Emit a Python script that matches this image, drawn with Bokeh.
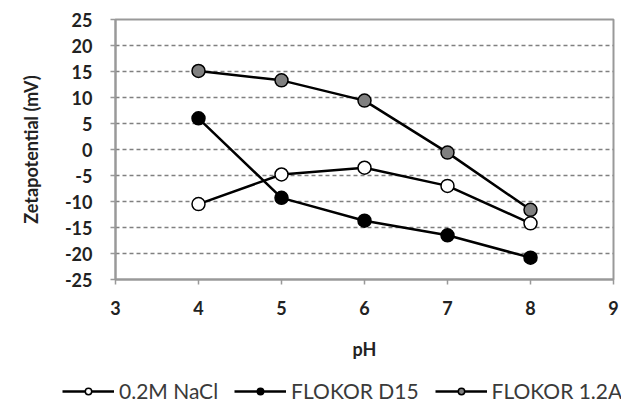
from bokeh.plotting import figure
from bokeh.models import Legend, LegendItem, FixedTicker, Range1d
from bokeh.layouts import column, row
from bokeh.embed import file_html
from bokeh.resources import INLINE

ph = [4, 5, 6, 7, 8]
nacl = [-10.5, -4.8, -3.5, -7.0, -14.2]
d15 = [6.0, -9.3, -13.7, -16.5, -20.8]
a12 = [15.1, 13.3, 9.4, -0.6, -11.6]
series_names = ["0.2M NaCl", "FLOKOR D15", "FLOKOR 1.2A"]
series_fills = ["white", "black", "#808080"]
x_ticks = [3, 4, 5, 6, 7, 8, 9]
y_ticks = list(range(-25, 30, 5))

FONT = "Lato"
W = 621

p = figure(width=W, height=370, output_backend="svg", toolbar_location=None,
           x_range=Range1d(3, 9), y_range=Range1d(-25, 25))
p.min_border_left = 115
p.min_border_right = W - 613
p.min_border_top = 19
p.min_border_bottom = 370 - 279
p.background_fill_color = "white"
p.border_fill_color = "white"
p.outline_line_color = "#999999"
p.outline_line_width = 2

p.xgrid.grid_line_color = None
p.ygrid.grid_line_color = "#808080"
p.ygrid.grid_line_dash = "4 3"
p.ygrid.grid_line_width = 1.5

p.xaxis.ticker = FixedTicker(ticks=x_ticks)
p.yaxis.ticker = FixedTicker(ticks=y_ticks)
p.yaxis.major_label_overrides = {t: str(t) for t in y_ticks}
for ax in (p.xaxis, p.yaxis):
    ax.axis_line_color = "#999999"
    ax.axis_line_width = 2
    ax.major_tick_line_color = "#999999"
    ax.major_tick_line_width = 1.5
    ax.major_tick_in = 0
    ax.major_tick_out = 5
    ax.minor_tick_line_color = None
    ax.major_label_text_font = FONT
    ax.major_label_text_font_style = "bold"
    ax.major_label_text_font_size = "18px"
    ax.major_label_text_color = "#222222"
    ax.axis_label_text_font = FONT
    ax.axis_label_text_font_style = "bold"
    ax.axis_label_text_font_size = "18px"
    ax.axis_label_text_color = "#222222"
p.xaxis.axis_label = "pH"
p.yaxis.axis_label = "Zetapotential (mV)"
p.xaxis.major_label_standoff = 16
p.yaxis.major_label_standoff = 18
p.xaxis.axis_label_standoff = 20
p.yaxis.axis_label_standoff = 20

for ys, fill in zip([nacl, d15, a12], series_fills):
    p.line(ph, ys, line_color="black", line_width=2.5)
    p.scatter(ph, ys, size=13, fill_color=fill, line_color="black", line_width=1.5)

# legend strip below the chart
lf = figure(width=W, height=34, output_backend="svg", toolbar_location=None,
            x_range=Range1d(0, 1), y_range=Range1d(0, 1),
            x_axis_location=None, y_axis_location=None)
lf.min_border_left = 0
lf.min_border_right = 0
lf.min_border_top = 0
lf.min_border_bottom = 0
lf.outline_line_color = None
lf.grid.grid_line_color = None
items = []
for ys, fill, name in zip([nacl, d15, a12], series_fills, series_names):
    l = lf.line(ph, ys, line_color="black", line_width=2.5)
    c = lf.scatter(ph, ys, size=10, fill_color=fill, line_color="black", line_width=1.5)
    items.append(LegendItem(label=name, renderers=[l, c]))

legend = Legend(items=items, orientation="horizontal", location=(62, 1))
legend.label_text_font = FONT
legend.label_text_font_size = "21px"
legend.label_text_color = "#3a3a3a"
legend.glyph_width = 52
legend.glyph_height = 16
legend.label_height = 16
legend.spacing = 16
legend.label_standoff = 5
legend.padding = 0
legend.margin = 0
legend.border_line_color = None
legend.background_fill_alpha = 0
lf.add_layout(legend, "center")

layout = column(p, row(lf, spacing=0), spacing=0)
open("out.html", "w").write(file_html(layout, INLINE))
